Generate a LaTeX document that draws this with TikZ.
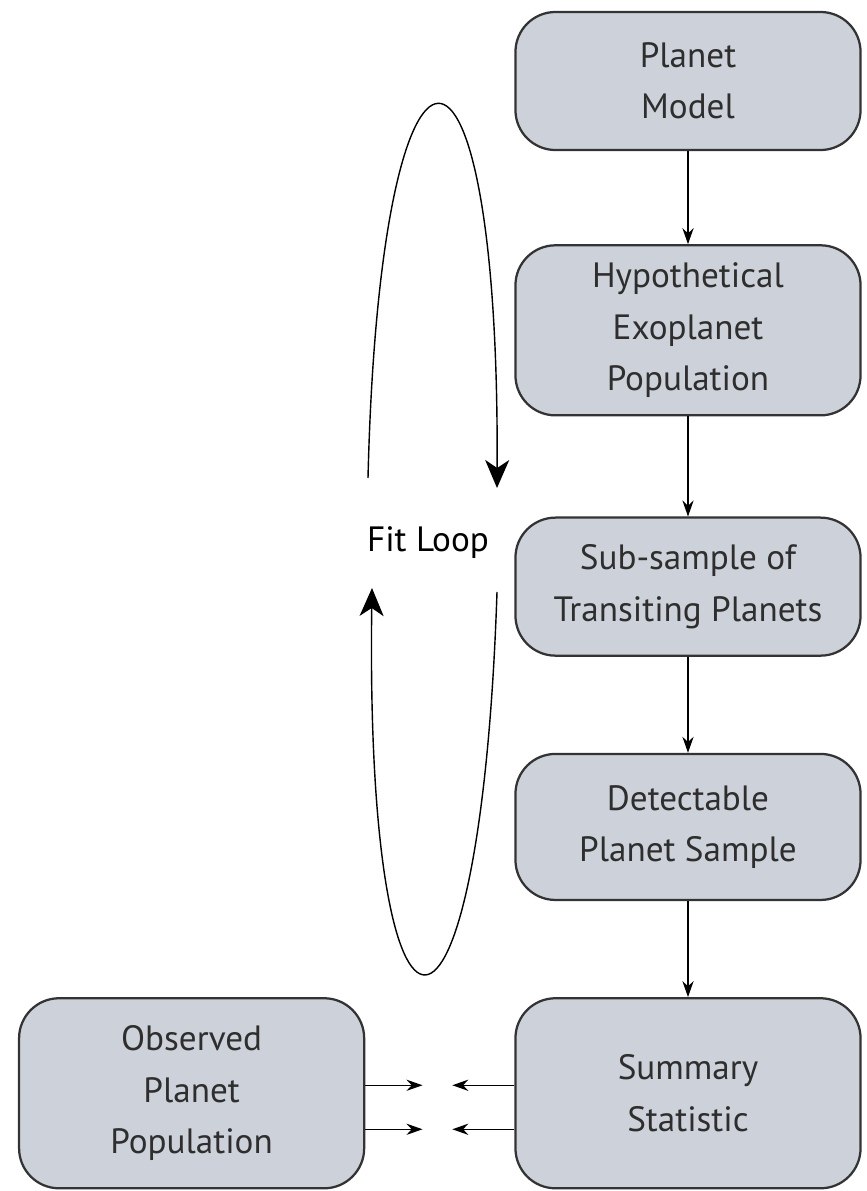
\documentclass[tikz,border=0pt]{standalone}
\usepackage{fontspec}
\setmainfont{PT Sans}
\usetikzlibrary{arrows.meta, positioning}
\definecolor{boxgray}{HTML}{CDD1D9}
\definecolor{textgray}{HTML}{2E2E2E}

\begin{document}
\begin{tikzpicture}[
    x=0.025cm, y=-0.025cm,
    font=\fontsize{25}{36.5}\selectfont,
    box/.style={draw=black!80, line width=1.6pt, rounded corners=1cm, fill=boxgray, text=textgray, align=center, minimum width=8.625cm, inner sep=0pt},
    arrow/.style={-{Stealth[length=0.4cm, width=0.28cm]}, line width=1pt},
    looparrow/.style={-{Stealth[length=0.7cm, width=0.6cm, inset=0.2cm]}, line width=1pt}
]
\useasboundingbox (0,0) rectangle (867,1191);

% Simulation chain
\node[box, minimum height=3.45cm] at (688,81) (model) {Planet\\Model};
\node[box, minimum height=4.25cm, below=2.325cm of model] (hypo) {Hypothetical\\Exoplanet\\Population};
\node[box, minimum height=3.45cm, below=2.5cm of hypo] (subsample) {Sub-sample of\\Transiting Planets};
\node[box, minimum height=3.65cm, below=2.4cm of subsample] (detect) {Detectable\\Planet Sample};
\node[box, minimum height=4.75cm, below=2.4cm of detect] (summary) {Summary\\Statistic};

% Observations
\node[box, minimum height=4.75cm, left=3.725cm of summary] (observed) {Observed\\Planet\\Population};

% Fit loop
\node at (428,543) (loop) {Fit Loop};
\coordinate (upstart) at (368,478);
\coordinate (upend) at (497,488);
\coordinate (lowstart) at (497,592);
\coordinate (lowend) at (372,588);
\draw[looparrow] (upstart) .. controls (380,-20) and (500,-20) .. (upend);
\draw[looparrow] (lowstart) .. controls (480,1100) and (365,1100) .. (lowend);

% Arrows
\draw[arrow] (model) -- (hypo);
\draw[arrow] (hypo) -- (subsample);
\draw[arrow] (subsample) -- (detect);
\draw[arrow] (detect) -- (summary);

% Comparison
\draw[arrow] ([yshift=0.2cm]observed.east) -- ++(1.43cm,0);
\draw[arrow] ([yshift=-0.9cm]observed.east) -- ++(1.43cm,0);
\draw[arrow] ([yshift=0.2cm]summary.west) -- ++(-1.55cm,0);
\draw[arrow] ([yshift=-0.9cm]summary.west) -- ++(-1.55cm,0);

\end{tikzpicture}
\end{document}
